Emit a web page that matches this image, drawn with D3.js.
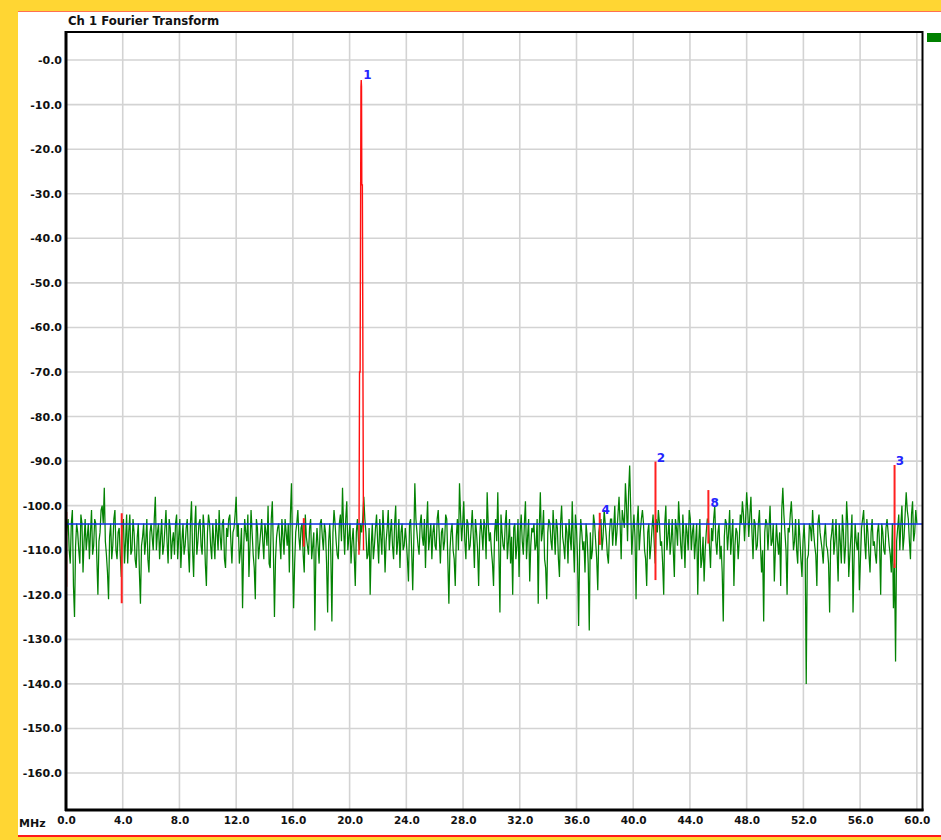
<!DOCTYPE html>
<html><head><meta charset="utf-8">
<script src="https://cdn.jsdelivr.net/npm/d3@7"></script>
<style>
html,body{margin:0;padding:0;background:#FFD633;}
svg{display:block;}
</style></head>
<body>
<svg id="chart" width="941" height="840"></svg>
<script>
// ---------- DATA ----------
const title = "Ch 1 Fourier Transform";
const xUnit = "MHz";
const xTicks = [0,4,8,12,16,20,24,28,32,36,40,44,48,52,56,60];
const xTickLabels = ["0.0","4.0","8.0","12.0","16.0","20.0","24.0","28.0","32.0","36.0","40.0","44.0","48.0","52.0","56.0","60.0"];
const yTicks = [0,-10,-20,-30,-40,-50,-60,-70,-80,-90,-100,-110,-120,-130,-140,-150,-160];
const yTickLabels = ["-0.0","-10.0","-20.0","-30.0","-40.0","-50.0","-60.0","-70.0","-80.0","-90.0","-100.0","-110.0","-120.0","-130.0","-140.0","-150.0","-160.0"];
const freqStart = 0, freqStep = 0.15; // MHz between samples of `spectrum`
// green spectrum trace (dB), one value per 0.15 MHz
const spectrum = [
 -108,-103,-113,-101,-125,-104,-110,-102,-115,-103,-107,-112,-101,-109,-104,-120,-106,-100,-96,-111,
 -121,-104,-109,-101,-112,-105,-116,-103,-108,-113,-102,-110,-106,-114,-104,-122,-107,-111,-103,-115,
 -104,-110,-98,-106,-112,-103,-109,-101,-113,-105,-108,-111,-102,-107,-114,-104,-109,-103,-115,-99,
 -116,-100,-108,-103,-111,-105,-118,-102,-109,-104,-112,-106,-101,-110,-103,-114,-107,-102,-113,-105,
 -98,-104,-110,-123,-103,-108,-116,-101,-111,-121,-105,-109,-103,-112,-106,-100,-114,-99,-125,-107,
 -104,-112,-107,-103,-109,-115,-95,-123,-106,-101,-110,-104,-115,-107,-111,-103,-109,-128,-105,-113,
 -103,-110,-106,-124,-104,-126,-101,-108,-112,-102,-96,-111,-99,-107,-113,-105,-118,-103,-110,-106,
 -98,-106,-111,-120,-104,-109,-102,-113,-107,-101,-115,-105,-110,-103,-112,-100,-108,-114,-104,-109,
 -108,-117,-103,-119,-95,-106,-111,-102,-109,-114,-99,-107,-112,-104,-110,-101,-113,-105,-108,-103,
 -122,-106,-110,-118,-103,-95,-108,-99,-112,-104,-109,-101,-114,-106,-118,-103,-110,-105,-97,-108,
 -110,-118,-103,-97,-124,-106,-110,-101,-108,-113,-120,-104,-109,-116,-102,-111,-99,-107,-117,-105,
 -104,-109,-122,-97,-106,-112,-121,-103,-108,-101,-111,-105,-116,-100,-109,-104,-113,-107,-99,-115,
 -105,-127,-103,-110,-115,-107,-128,-112,-102,-108,-119,-104,-110,-101,-107,-113,-103,-109,-100,-106,
 -98,-112,-103,-95,-108,-91,-111,-102,-121,-100,-106,-101,-110,-118,-104,-109,-102,-113,-106,-104,
 -108,-120,-100,-107,-111,-103,-116,-105,-99,-109,-102,-114,-106,-101,-110,-104,-108,-120,-103,-112,
 -117,-106,-103,-114,-108,-100,-111,-104,-109,-126,-103,-110,-101,-107,-118,-105,-112,-102,-99,-108,
 -97,-107,-98,-112,-104,-109,-101,-115,-126,-103,-110,-100,-108,-117,-104,-111,-118,-96,-106,-120,
 -106,-99,-110,-103,-113,-107,-116,-104,-140,-111,-105,-101,-109,-118,-102,-108,-113,-104,-110,-124,
 -106,-111,-103,-117,-108,-102,-113,-99,-116,-107,-124,-104,-110,-119,-105,-101,-112,-106,-115,-103,
 -108,-113,-104,-120,-106,-111,-103,-109,-115,-123,-135,-105,-110,-100,-107,-97,-103,-112,-99,-106,-104
];
// green trace samples lying half-way (in frequency) between consecutive `spectrum` samples
const spectrumMid = [
 -105,-110,-104,-118,-109,-106,-113,-104,-108,-110,-104,-106,-111,-103,-112,-108,-101,-104,-108,-115,
 -107,-112,-103,-110,-106,-111,-104,-113,-102,-106,-111,-103,-112,-107,-115,-109,-104,-108,-112,-106,
 -107,-103,-110,-104,-107,-111,-105,-108,-103,-112,-106,-104,-112,-103,-108,-111,-105,-110,-104,-110,
 -105,-111,-104,-109,-102,-113,-106,-104,-112,-108,-103,-110,-107,-104,-112,-105,-103,-108,-106,-102,
 -107,-113,-105,-110,-106,-102,-109,-106,-114,-103,-112,-106,-108,-104,-109,-113,-103,-110,-112,-105,
 -108,-103,-111,-106,-104,-102,-110,-113,-104,-107,-105,-111,-102,-109,-105,-112,-106,-110,-109,-104,
 -107,-104,-113,-108,-111,-106,-104,-111,-104,-108,-105,-103,-110,-104,-108,-111,-106,-108,-104,-103,
 -103,-112,-105,-109,-112,-105,-108,-103,-111,-106,-108,-101,-106,-109,-104,-111,-103,-106,-110,-105,
 -112,-104,-110,-108,-103,-109,-104,-107,-103,-105,-110,-104,-106,-109,-103,-107,-106,-110,-102,-112,
 -110,-104,-112,-107,-110,-102,-104,-108,-103,-110,-105,-107,-103,-110,-107,-106,-103,-112,-104,-106,
 -113,-106,-108,-110,-102,-109,-104,-112,-103,-107,-105,-112,-103,-106,-108,-104,-112,-103,-109,-106,
 -110,-103,-105,-108,-101,-114,-106,-104,-110,-106,-103,-112,-104,-107,-112,-106,-103,-110,-108,-102,
 -112,-109,-106,-108,-104,-113,-106,-110,-104,-112,-106,-103,-107,-104,-111,-106,-103,-105,-109,-102,
 -104,-101,-105,-100,-97,-101,-106,-107,-104,-110,-103,-104,-112,-106,-112,-105,-108,-103,-101,-109,
 -113,-104,-110,-103,-108,-110,-103,-109,-104,-112,-107,-104,-110,-103,-106,-112,-104,-108,-114,-107,
 -110,-103,-109,-105,-103,-108,-106,-112,-115,-107,-104,-106,-111,-103,-109,-106,-108,-104,-102,-103,
 -101,-102,-106,-103,-110,-104,-109,-110,-106,-104,-105,-109,-104,-110,-108,-106,-101,-102,-110,-105,
 -102,-104,-108,-110,-103,-112,-108,-110,-112,-104,-108,-106,-111,-104,-106,-110,-107,-109,-113,-108,
 -103,-108,-110,-104,-113,-106,-109,-104,-111,-102,-112,-108,-106,-112,-103,-108,-103,-111,-106,-109,
 -111,-106,-109,-104,-110,-105,-106,-111,-104,-113,-108,-102,-104,-110,-102,-101,-108,-102,-108,-101
];
// main carrier peak (red), frequency/level pairs
const peakFreq  = [20.66, 20.70, 20.74, 20.78, 20.80, 20.82, 20.84, 20.86, 20.90, 20.94, 20.98];
const peakLevel = [-111,  -70,   -70,   -28,   -6,    -4.5,  -6,    -28,   -28,   -70,   -110];
// highlighted (red) spectral lines: frequency, top dB, bottom dB
const redFreq   = [0.02, 3.93, 16.77, 37.64, 41.57, 45.30, 58.43];
const redTop    = [-101.4, -101.7, -102.8, -101.6, -90.1, -96.5, -90.9];
const redBottom = [-118.2, -121.9, -109.2, -108.8, -116.7, -108.5, -114.0];
// marker labels
const markerNames = ["1","2","3","4","8"];
const markerFreq  = [21.25, 41.95, 58.8, 38.05, 45.75];
const markerLevel = [-3.4, -89.2, -89.9, -101.0, -99.3];
// average / reference level (blue line)
const refLevel = -104.1;

// ---------- LAYOUT ----------
const svg = d3.select("#chart");
const W = 941, H = 840;
const plot = {left: 66, top: 32, right: 922.5, bottom: 810};

const x = d3.scaleLinear().domain([0, 60.4]).range([plot.left, plot.right]);
const y = d3.scaleLinear().domain([6.3, -168.3]).range([plot.top, plot.bottom]);

// panel
svg.append("rect").attr("x",0).attr("y",0).attr("width",W).attr("height",H).attr("fill","#FFD633");
svg.append("rect").attr("x",18).attr("y",11).attr("width",W-18).attr("height",826).attr("fill","#fff");
svg.append("line").attr("x1",18).attr("x2",W).attr("y1",11.5).attr("y2",11.5).attr("stroke","#ff7050").attr("stroke-width",1);
svg.append("line").attr("x1",18).attr("x2",W).attr("y1",836).attr("y2",836).attr("stroke","#ff1a1a").attr("stroke-width",2);

// grid
const grid = svg.append("g");
grid.selectAll("line.v").data(xTicks).enter().append("line")
  .attr("x1",d=>x(d)).attr("x2",d=>x(d)).attr("y1",plot.top).attr("y2",plot.bottom)
  .attr("stroke","#d3d3d3").attr("stroke-width",1.6);
grid.selectAll("line.h").data(yTicks).enter().append("line")
  .attr("x1",plot.left).attr("x2",plot.right).attr("y1",d=>y(d)).attr("y2",d=>y(d))
  .attr("stroke","#d3d3d3").attr("stroke-width",1.6);

// clip
svg.append("clipPath").attr("id","clip").append("rect")
  .attr("x",plot.left).attr("y",plot.top).attr("width",plot.right-plot.left).attr("height",plot.bottom-plot.top);
const g = svg.append("g").attr("clip-path","url(#clip)");

// green trace: interleave main samples with half-step samples
const trace = [];
spectrum.forEach((v,i)=>{
  trace.push([freqStart + i*freqStep, v]);
  if (i < spectrumMid.length) trace.push([freqStart + (i+0.5)*freqStep, spectrumMid[i]]);
});
const traceLine = d3.line().x(d=>x(d[0])).y(d=>y(d[1]));
g.append("path").datum(trace).attr("d",traceLine)
  .attr("fill","none").attr("stroke","#038203").attr("stroke-width",1.25).attr("stroke-linejoin","miter");

// red peak
const peakData = peakFreq.map((f,i)=>[f, peakLevel[i]]);
g.append("path").datum(peakData)
  .attr("d", d3.line().x(d=>x(d[0])).y(d=>y(d[1])))
  .attr("fill","none").attr("stroke","#ff1010").attr("stroke-width",1.4);

// red lines
g.selectAll("line.red").data(redFreq).enter().append("line")
  .attr("x1",d=>x(d)).attr("x2",d=>x(d))
  .attr("y1",(d,i)=>y(redTop[i])).attr("y2",(d,i)=>y(redBottom[i]))
  .attr("stroke","#ff2020").attr("stroke-width",2);

// blue reference line
g.append("line").attr("x1",plot.left).attr("x2",plot.right)
  .attr("y1",y(refLevel)).attr("y2",y(refLevel))
  .attr("stroke","#1030e8").attr("stroke-width",1.6);

// marker labels
svg.selectAll("text.mk").data(markerNames).enter().append("text")
  .attr("x",(d,i)=>x(markerFreq[i])).attr("y",(d,i)=>y(markerLevel[i]))
  .attr("dy","0.35em")
  .attr("font-family","'DejaVu Sans', Verdana, sans-serif").attr("font-weight","bold")
  .attr("font-size",12).attr("fill","#2424ff").attr("text-anchor","middle").text(d=>d);

// frame
svg.append("rect").attr("x",plot.left).attr("y",plot.top)
  .attr("width",plot.right-plot.left).attr("height",plot.bottom-plot.top)
  .attr("fill","none").attr("stroke","#000").attr("stroke-width",2);
svg.append("line").attr("x1",plot.left).attr("x2",plot.left).attr("y1",plot.top-1).attr("y2",plot.bottom+1)
  .attr("stroke","#000").attr("stroke-width",3);
svg.append("line").attr("x1",plot.left-1).attr("x2",plot.right+1).attr("y1",plot.bottom).attr("y2",plot.bottom)
  .attr("stroke","#000").attr("stroke-width",3);

// axes labels using d3 axes
const yAxis = d3.axisLeft(y).tickValues(yTicks).tickSize(0).tickPadding(4)
  .tickFormat((d,i)=>yTickLabels[i]);
const ya = svg.append("g").attr("transform",`translate(${plot.left},0)`).call(yAxis);
ya.select(".domain").remove();
ya.selectAll("text").attr("font-family","'DejaVu Sans', Verdana, sans-serif").attr("font-weight","bold")
  .attr("font-size",11).attr("fill","#111");

const xAxis = d3.axisBottom(x).tickValues(xTicks).tickSize(0).tickPadding(7)
  .tickFormat((d,i)=>xTickLabels[i]);
const xa = svg.append("g").attr("transform",`translate(0,${plot.bottom})`).call(xAxis);
xa.select(".domain").remove();
xa.selectAll("text").attr("font-family","'DejaVu Sans', Verdana, sans-serif").attr("font-weight","bold")
  .attr("font-size",10.5).attr("fill","#111");

svg.append("text").attr("x",19).attr("y",823).attr("dy","0.35em")
  .attr("font-family","'DejaVu Sans', Verdana, sans-serif").attr("font-weight","bold")
  .attr("font-size",11).attr("fill","#111").text(xUnit);

// title
svg.append("text").attr("x",68).attr("y",21).attr("dy","0.35em")
  .attr("font-family","'DejaVu Sans', Verdana, sans-serif").attr("font-weight","bold")
  .attr("font-size",11.7).attr("fill","#111").text(title);

// legend swatch at right
svg.append("rect").attr("x",927).attr("y",33).attr("width",14).attr("height",9).attr("fill","#008000");
</script>
</body></html>
